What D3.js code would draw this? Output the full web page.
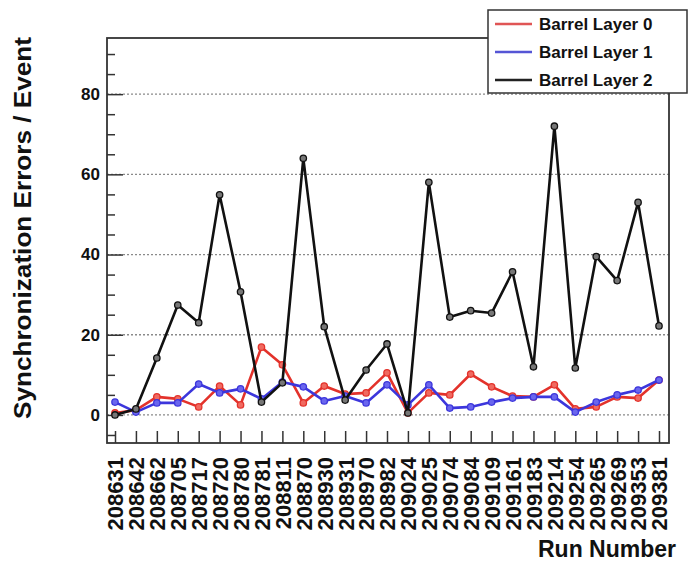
<!DOCTYPE html>
<html>
<head>
<meta charset="utf-8">
<script src="https://cdn.jsdelivr.net/npm/d3@7"></script>
<style>
  body { margin: 0; background: #fff; }
  text { font-family: "Liberation Sans", Arial, sans-serif; font-weight: bold; fill: #111; }
</style>
</head>
<body>
<div id="chart"></div>
<script>
// run numbers on the x axis
const runs = ["208631", "208642", "208662", "208705", "208717", "208720", "208780", "208781",
  "208811", "208870", "208930", "208931", "208970", "208982", "209024", "209025", "209074",
  "209084", "209109", "209161", "209183", "209214", "209254", "209265", "209269", "209353", "209381"];

// errors per event
const layer0 = [0.5, 1.2, 4.5, 4, 2, 7.2, 2.5, 16.9, 12.5, 3, 7.2, 5.2, 5.5, 10.5,
  0.5, 5.5, 5, 10.2, 7, 4.7, 4.5, 7.5, 1.5, 2, 4.5, 4.2, 8.7];
const layer1 = [3.2, 0.7, 3, 3, 7.7, 5.5, 6.5, 4, 8.2, 7, 3.5, 4.7, 3, 7.5,
  2.5, 7.5, 1.7, 2, 3.2, 4.2, 4.5, 4.5, 0.7, 3.2, 5, 6.2, 8.7];
const layer2 = [0, 1.5, 14.2, 27.4, 23, 54.9, 30.7, 3.2, 8, 64, 22, 3.7, 11.2, 17.7,
  0.5, 58, 24.4, 26, 25.4, 35.7, 12, 72, 11.7, 39.5, 33.5, 53, 22.2];

const seriesNames = ["Barrel Layer 0", "Barrel Layer 1", "Barrel Layer 2"];
const yTicks = [0, 20, 40, 60, 80];

const series = [
  { name: seriesNames[0], values: layer0, color: "#e3322b", fill: "#f06a60", legend: "#e05555" },
  { name: seriesNames[1], values: layer1, color: "#3c36dc", fill: "#6a66ee", legend: "#5555d5" },
  { name: seriesNames[2], values: layer2, color: "#111111", fill: "#777777", legend: "#222222" }
];

const W = 689, H = 563;
const frame = { left: 107, top: 38, right: 669, bottom: 443 };

const svg = d3.select("#chart").append("svg")
  .attr("width", W).attr("height", H);

const x = d3.scalePoint()
  .domain(runs)
  .range([frame.left + 8, frame.right - 10]);

const y = d3.scaleLinear()
  .domain([-7, 94])
  .range([frame.bottom, frame.top]);

// dotted grid
svg.append("g")
  .selectAll("line")
  .data(yTicks)
  .join("line")
  .attr("x1", frame.left).attr("x2", frame.right)
  .attr("y1", d => y(d)).attr("y2", d => y(d))
  .attr("stroke", "#8a8a8a")
  .attr("stroke-width", 1.3)
  .attr("stroke-dasharray", "2,2");

// minor y ticks
const minor = d3.range(-5, 94, 5).filter(v => v % 20 !== 0);
svg.append("g")
  .attr("transform", `translate(${frame.left},0)`)
  .call(d3.axisLeft(y).tickValues(minor).tickSize(-8).tickFormat(""))
  .call(g => g.select(".domain").remove())
  .call(g => g.selectAll("line").attr("stroke", "#333").attr("stroke-width", 1.5));

// major y ticks
svg.append("g")
  .attr("transform", `translate(${frame.left},0)`)
  .call(d3.axisLeft(y).tickValues(yTicks).tickSize(-16).tickPadding(7))
  .call(g => g.select(".domain").remove())
  .call(g => g.selectAll("line").attr("stroke", "#333").attr("stroke-width", 1.5))
  .call(g => g.selectAll("text").attr("font-size", 17).attr("fill", "#111")
    .style("font-family", "'Liberation Sans', Arial, sans-serif").style("font-weight", "bold"));

// x ticks and labels
svg.append("g")
  .attr("transform", `translate(0,${frame.bottom})`)
  .call(d3.axisBottom(x).tickSize(-12).tickPadding(0))
  .call(g => g.select(".domain").remove())
  .call(g => g.selectAll("line").attr("stroke", "#333").attr("stroke-width", 1.5))
  .call(g => g.selectAll("text")
    .attr("font-size", 22)
    .attr("fill", "#111")
    .style("font-family", "'Liberation Sans', Arial, sans-serif").style("font-weight", "bold")
    .attr("transform", "rotate(-90)")
    .attr("text-anchor", "end")
    .attr("x", -14).attr("y", 0).attr("dy", "0.36em"));

// frame
svg.append("rect")
  .attr("x", frame.left).attr("y", frame.top)
  .attr("width", frame.right - frame.left).attr("height", frame.bottom - frame.top)
  .attr("fill", "none").attr("stroke", "#333").attr("stroke-width", 1.8);

// series lines and markers
const line = d3.line().x((d, i) => x(runs[i])).y(d => y(d));
series.forEach(s => {
  svg.append("path")
    .datum(s.values)
    .attr("d", line)
    .attr("fill", "none")
    .attr("stroke", s.color)
    .attr("stroke-width", 2.6)
    .attr("stroke-linejoin", "round");
  svg.append("g")
    .selectAll("circle")
    .data(s.values)
    .join("circle")
    .attr("cx", (d, i) => x(runs[i]))
    .attr("cy", d => y(d))
    .attr("r", 3.2)
    .attr("fill", s.fill)
    .attr("stroke", s.color)
    .attr("stroke-width", 1.3);
});

// axis titles
svg.append("text")
  .attr("transform", "rotate(-90)")
  .attr("x", -228).attr("y", 31)
  .attr("text-anchor", "middle")
  .attr("font-size", 23)
  .attr("textLength", 382)
  .attr("lengthAdjust", "spacingAndGlyphs")
  .text("Synchronization Errors / Event");

svg.append("text")
  .attr("x", 676).attr("y", 557)
  .attr("text-anchor", "end")
  .attr("font-size", 23)
  .text("Run Number");

// legend
const lg = svg.append("g");
lg.append("rect")
  .attr("x", 488).attr("y", 10).attr("width", 199).attr("height", 83)
  .attr("fill", "#fff").attr("stroke", "#333").attr("stroke-width", 1.5);
const items = lg.selectAll("g.item")
  .data(series)
  .join("g")
  .attr("class", "item")
  .attr("transform", (d, i) => `translate(0,${24 + i * 28})`);
items.append("line")
  .attr("x1", 495).attr("x2", 532)
  .attr("stroke", d => d.legend)
  .attr("stroke-width", 2.6);
items.append("text")
  .attr("x", 539).attr("dy", "0.36em")
  .attr("font-size", 17)
  .text(d => d.name);
</script>
</body>
</html>
